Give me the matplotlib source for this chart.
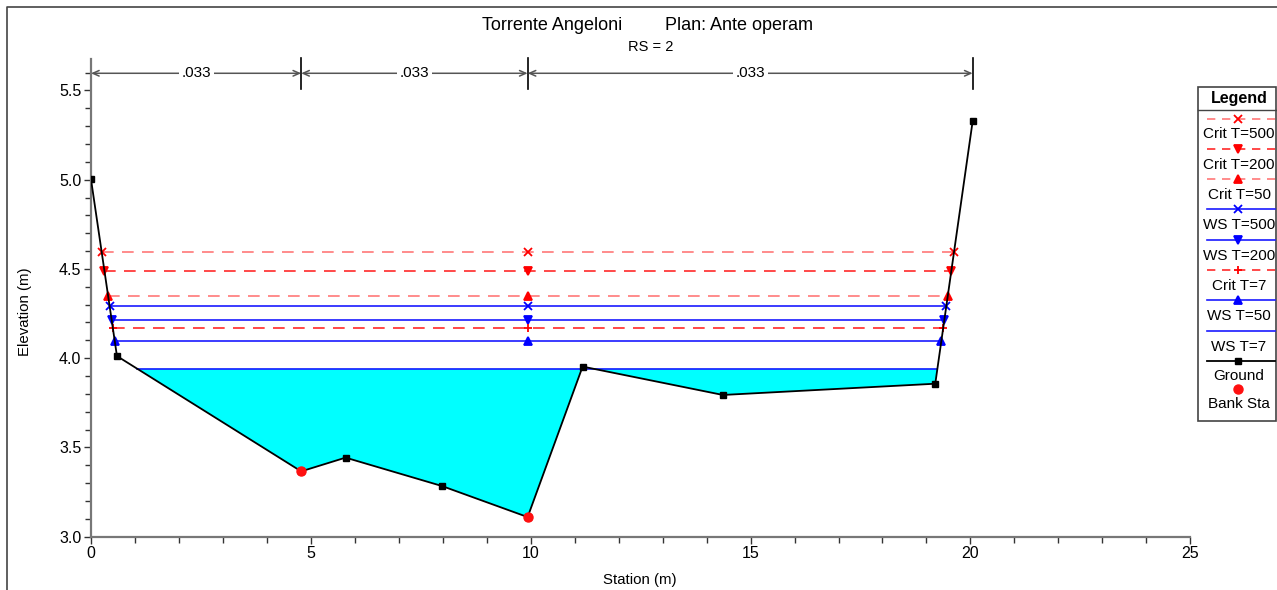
import matplotlib.pyplot as plt
import matplotlib
import numpy as np

matplotlib.rcParams['font.family'] = ['Liberation Sans', 'DejaVu Sans']

# ground profile
station = [0.0, 0.59, 4.78, 5.79, 7.98, 9.93, 11.18, 14.37, 19.20, 20.05]
elev = [5.002, 4.012, 3.366, 3.443, 3.284, 3.11, 3.953, 3.794, 3.857, 5.327]
bank_sta = [4.78, 9.93]
n_bounds = [0.0, 4.78, 9.93, 20.05]
n_values = ['.033', '.033', '.033']

# water surfaces, drawn in this order
profiles = ['Crit T=500', 'Crit T=200', 'Crit T=50', 'WS T=500',
            'WS T=200', 'Crit T=7', 'WS T=50', 'WS T=7']
levels = [4.595, 4.490, 4.350, 4.294, 4.214, 4.168, 4.096, 3.941]
colors = ['#ff7878', '#ff2a2a', '#ff7878', '#1a1aff', '#1a1aff', '#ff2a2a', '#1a1aff', '#1a1aff']
mcolors = ['#ff0000', '#ff0000', '#ff0000', '#0000ff', '#0000ff', '#ff0000', '#0000ff', '#0000ff']
markers = ['x', 'v', '^', 'x', 'v', '+', '^', None]
dashed = [True, True, True, False, False, True, False, False]

W, H = 1277, 590
fig = plt.figure(figsize=(W / 100, H / 100), dpi=100)
ax = fig.add_axes([91 / W, 1 - 536.7 / H, (1190.3 - 91) / W, (536.7 - 59) / H])

x = np.array(station)
g = np.array(elev)


def edges(z):
    # first crossing from the left and from the right
    xl = xr = None
    for i in range(len(x) - 1):
        if g[i] >= z > g[i + 1]:
            xl = np.interp(z, [g[i + 1], g[i]], [x[i + 1], x[i]])
            break
    for i in range(len(x) - 1, 0, -1):
        if g[i] >= z > g[i - 1]:
            xr = np.interp(z, [g[i - 1], g[i]], [x[i - 1], x[i]])
            break
    return xl, xr


# water fill for lowest profile
xf = np.linspace(x[0], x[-1], 4000)
gf = np.interp(xf, x, g)
ws = levels[-1]
xl, xr = edges(ws)
ax.fill_between(xf, gf, ws, where=(gf < ws) & (xf > xl) & (xf < xr),
                interpolate=True, color='#00ffff', lw=0, zorder=1)

mid = bank_sta[1]
for name, z, c, mc, m, d in zip(profiles, levels, colors, mcolors, markers, dashed):
    xl, xr = edges(z)
    ls = (0, (7, 5)) if d else '-'
    ax.plot([xl, xr], [z, z], color=c, lw=1.2, ls=ls, zorder=2)
    if m:
        ax.plot([xl, mid, xr], [z, z, z], ls='none', marker=m, color=mc,
                ms=6, mew=1.3, zorder=3)

ax.plot(x, g, color='black', lw=1.3, marker='s', ms=5, zorder=4)
ax.plot(bank_sta, np.interp(bank_sta, x, g), ls='none', marker='o',
        color='#ff1010', ms=6.5, zorder=5)

# manning n annotations
yn = 5.596
for a, b, lab in zip(n_bounds[:-1], n_bounds[1:], n_values):
    ax.annotate('', xy=(a, yn), xytext=(b, yn),
                arrowprops=dict(arrowstyle='<->,head_length=0.45,head_width=0.2',
                                color='#555555', lw=1.1, shrinkA=0, shrinkB=0))
    ax.text((a + b) / 2, yn, lab, ha='center', va='center', fontsize=11,
            bbox=dict(facecolor='white', edgecolor='none', pad=2), zorder=6)
for b in n_bounds[1:]:
    ax.plot([b, b], [5.51, 5.68], color='black', lw=1.2, clip_on=False)

ax.set_xlim(0, 25)
ax.set_ylim(3.0, 5.676)
ax.set_xticks([0, 5, 10, 15, 20, 25])
ax.set_xticks(np.arange(0, 26, 1), minor=True)
ax.set_yticks([3.0, 3.5, 4.0, 4.5, 5.0, 5.5])
ax.set_yticks(np.arange(3.0, 5.65, 0.1), minor=True)
ax.yaxis.set_major_formatter(matplotlib.ticker.FormatStrFormatter('%.1f'))
ax.tick_params(direction='out', length=5, width=1, color='#333333',
               labelsize=11.5, pad=2)
ax.tick_params(which='minor', direction='out', length=4, width=1, color='#333333')
for s in ['top', 'right']:
    ax.spines[s].set_visible(False)
for s in ['left', 'bottom']:
    ax.spines[s].set_color('#777777')
    ax.spines[s].set_linewidth(1.6)
ax.patch.set_alpha(0)

# titles and labels
fig.text(622 / W, 1 - 25 / H, 'Torrente Angeloni', ha='right', va='center', fontsize=13)
fig.text(665 / W, 1 - 25 / H, 'Plan: Ante operam', ha='left', va='center', fontsize=13)
fig.text(651 / W, 1 - 47 / H, 'RS = 2', ha='center', va='center', fontsize=10.5)
fig.text(25 / W, 1 - 312 / H, 'Elevation (m)', rotation=90, ha='center', va='center', fontsize=10.8)
fig.text(640 / W, 1 - 580 / H, 'Station (m)', ha='center', va='center', fontsize=10.8)

# frame and legend, in pixel units
ov = fig.add_axes([0, 0, 1, 1], zorder=-1)
ov.set_xlim(0, W)
ov.set_ylim(H, 0)
ov.axis('off')
ov.plot([7, 7, W], [H, 7, 7], color='#444444', lw=1.2)

leg = fig.add_axes([0, 0, 1, 1])
leg.set_xlim(0, W)
leg.set_ylim(H, 0)
leg.axis('off')
leg.add_patch(plt.Rectangle((1198, 87), 78, 334, facecolor='white',
                            edgecolor='#444444', lw=1.2))
leg.plot([1198, 1276], [110, 110], color='#444444', lw=1.0)
leg.text(1239, 98.5, 'Legend', ha='center', va='center', fontsize=11.5,
         fontweight='bold')
yy = 118.5
for name, c, mc, m, d in zip(profiles, colors, mcolors, markers, dashed):
    ls = (0, (5, 4)) if d else '-'
    leg.plot([1207, 1275], [yy, yy], color=c, lw=1.2, ls=ls)
    if m:
        leg.plot([1238], [yy], ls='none', marker=m, color=mc, ms=6, mew=1.3)
    leg.text(1239, yy + 16, name, ha='center', va='center', fontsize=11)
    yy += 30.3
leg.plot([1207, 1275], [yy, yy], color='black', lw=1.3)
leg.plot([1238], [yy], ls='none', marker='s', color='black', ms=5)
leg.text(1239, yy + 15, 'Ground', ha='center', va='center', fontsize=11)
yy += 28.5
leg.plot([1238], [yy], ls='none', marker='o', color='#ff1010', ms=6.5)
leg.text(1239, yy + 15, 'Bank Sta', ha='center', va='center', fontsize=11)

plt.savefig('out.png', dpi=100, facecolor='white')
plt.close()
